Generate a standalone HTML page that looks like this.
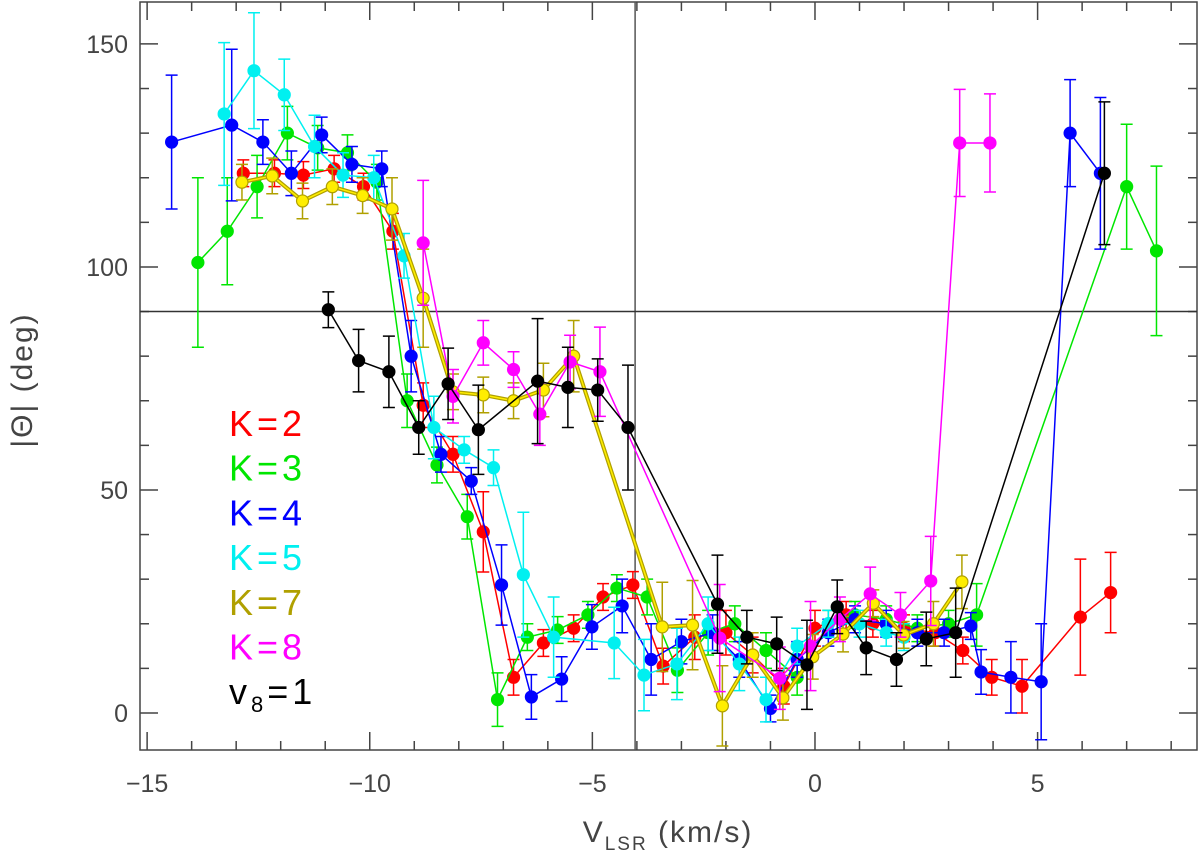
<!DOCTYPE html>
<html><head><meta charset="utf-8"><style>
html,body{margin:0;padding:0;background:#fff;}
svg{display:block;font-family:"Liberation Sans",sans-serif;}
</style></head><body>
<svg id="chart" width="1200" height="859" viewBox="0 0 1200 859" xmlns="http://www.w3.org/2000/svg"></svg>
<script>
const seriesNames = ["K=2","K=3","K=4","K=5","K=7","K=8","v8=1"];
const xTicks = [-15,-10,-5,0,5];
const yTicks = [0,50,100,150];
const k2V = [-12.84,-12.14,-11.49,-10.8,-10.14,-9.48,-8.8,-8.13,-7.45,-6.77,-6.1,-5.42,-4.76,-4.09,-3.41,-2.7,-2.0,-1.4,-0.7,0,0.7,1.3,2.0,2.7,3.32,3.97,4.65,5.96,6.64];
const k2T = [121,121,120.6,122,118,108,69,58,40.6,8,15.7,19,26,28.7,10.5,17,18,13,6,19,22,20,19,18,14,8,6,21.5,27];
const k2E = [3,3,3,3,3,4,5,4,9,4,3,3,3,3,4,5,5,4,4,4,3,3,3,3,3,4,6,13,9];
const k3V = [-13.86,-13.2,-12.53,-11.85,-11.17,-10.5,-9.84,-9.16,-8.49,-7.81,-7.13,-6.46,-5.78,-5.1,-4.45,-3.77,-3.09,-2.4,-1.8,-1.1,-0.4,0.3,0.9,1.6,2.3,3.0,3.63,7.0,7.67];
const k3T = [101,108,118,130,126.7,125.6,119,70,55.6,44,3,17,18.6,22,28,26,9.6,18,20,14,8,20,22,21,19,20,22,118,103.6];
const k3E = [19,12,7,6,5,4,4,6,4,5,6,3,3,3,3,4,5,5,4,4,4,3,3,3,3,3,7,14,19];
const k4V = [-14.45,-13.1,-12.4,-11.76,-11.08,-10.4,-9.73,-9.07,-8.4,-7.72,-7.04,-6.37,-5.69,-5.01,-4.33,-3.68,-3.0,-2.3,-1.7,-1.0,-0.4,0.3,0.9,1.6,2.3,2.9,3.5,3.73,4.4,5.08,5.73,6.41];
const k4T = [128,131.8,128,121,129.6,123,122,80,58,52,28.7,3.6,7.6,19.3,24,12,16,18,12,1,12,18,21,20,18,18,19.5,9.2,8,7,130,121];
const k4E = [15,17,5,5,4,4,4,8,4,3,9,5,5,5,6,8,5,4,4,3,4,3,3,3,3,3,3,5,8,13,12,17];
const k5V = [-13.27,-12.6,-11.92,-11.24,-10.6,-9.91,-9.23,-8.56,-7.88,-7.22,-6.55,-5.87,-4.51,-3.84,-3.1,-2.4,-1.7,-1.1,-0.4,0.3,1.0,1.6,2.0];
const k5T = [134.3,144,138.6,127,120.6,120,102.5,64,59,55,31,17,15.7,8.5,11,20,11,3,15,20,20,18,17];
const k5E = [16,13,8,7,5,5,5,7,3,4,14,9,8,8,8,6,6,5,4,3,3,3,3];
const k7V = [-12.87,-12.19,-11.51,-10.84,-10.16,-9.5,-8.8,-8.13,-7.45,-6.77,-6.1,-5.42,-3.43,-2.75,-2.08,-1.4,-0.72,-0.05,0.63,1.31,1.99,2.66,3.3];
const k7T = [119,120.4,114.8,118,116,113,93,72,71.3,70,72.4,80,19.3,19.7,1.6,13,3.4,12.6,17.7,24.6,17.5,20,29.4];
const k7E = [4,4,4,4,4,7,11,4,4,4,6,8,10,10,9,5,5,5,4,3,3,5,6];
const k8V = [-8.8,-8.13,-7.45,-6.77,-6.18,-5.5,-4.83,-2.14,-0.79,-0.1,0.56,1.24,1.92,2.6,3.25,3.93];
const k8T = [105.4,71,83,77,67,78.7,76.5,16.8,7.8,15,21,26.7,22,29.6,127.8,127.8];
const k8E = [14,6,5,4,7,6,10,12,7,10,5,6,5,10,12,11];
const k9V = [-10.93,-10.25,-9.57,-8.9,-8.24,-7.56,-6.23,-5.55,-4.88,-4.2,-2.19,-1.53,-0.86,-0.18,0.5,1.15,1.83,2.5,3.16,6.5];
const k9T = [90.4,79,76.5,64,73.8,63.5,74.4,73,72.4,64,24.4,17,15.5,10.8,23.8,14.6,12,16.6,18,121];
const k9E = [4,7,8,6,8,10,14,9,7,14,11,6,6,10,6,6,6,6,10,16];

const X0=140,X1=1197,Y0=2,Y1=750;
const xMin=-15.16,xMax=8.58,yMin=-8.3,yMax=159.4;
function sx(v){return X0+(v-xMin)/(xMax-xMin)*(X1-X0);}
function sy(v){return Y1-(v-yMin)/(yMax-yMin)*(Y1-Y0);}
const svg=document.getElementById('chart');
const NS='http://www.w3.org/2000/svg';
function mk(tag,attrs,parent){const e=document.createElementNS(NS,tag);for(const k in attrs)e.setAttribute(k,attrs[k]);(parent||svg).appendChild(e);return e;}

const frame=mk('rect',{x:X0,y:Y0,width:X1-X0,height:Y1-Y0,fill:'none',stroke:'#444','stroke-width':1.5});


const tg=mk('g',{stroke:'#444','stroke-width':1.5});


for(let v=-15;v<=8;v++){const L=(v%5===0)?18:9;const x=sx(v);
 mk('line',{x1:x,y1:Y1,x2:x,y2:Y1-L},tg);mk('line',{x1:x,y1:Y0,x2:x,y2:Y0+L},tg);}
for(let v=0;v<=150;v+=10){const L=(v%50===0)?18:9;const y=sy(v);
 mk('line',{x1:X0,y1:y,x2:X0+L,y2:y},tg);mk('line',{x1:X1,y1:y,x2:X1-L,y2:y},tg);}
xTicks.forEach(v=>{const t=mk('text',{x:sx(v),y:792,'text-anchor':'middle','font-size':25,fill:'#444'});t.textContent=(v<0?'\u2212'+(-v):v);
 
 });
yTicks.forEach(v=>{const t=mk('text',{x:128,y:sy(v)+9,'text-anchor':'end','font-size':25,fill:'#444'});t.textContent=v;
 
 });
const vl=mk('line',{x1:sx(-4.04),y1:Y0,x2:sx(-4.04),y2:Y1,stroke:'#555','stroke-width':1.5});


const hl=mk('line',{x1:X0,y1:sy(90),x2:X1,y2:sy(90),stroke:'#333','stroke-width':1.5});


const xt=mk('text',{x:668,y:842,'text-anchor':'middle','font-size':30,fill:'#444','letter-spacing':2});
xt.innerHTML='V<tspan font-size="19" dy="8">LSR</tspan><tspan dy="-8"> (km/s)</tspan>';


const yt=mk('text',{x:0,y:0,'text-anchor':'middle','font-size':30,fill:'#444','letter-spacing':2,transform:'translate(32,380) rotate(-90)'});
yt.textContent='|\u0398|  (deg)';



const series=[
 {v:k2V,t:k2T,e:k2E,c:'#ff0000',f:'#ff0000',n:'k2'},
 {v:k3V,t:k3T,e:k3E,c:'#00e600',f:'#00e600',n:'k3'},
 {v:k4V,t:k4T,e:k4E,c:'#0000ff',f:'#0000ff',n:'k4'},
 {v:k5V,t:k5T,e:k5E,c:'#00f0f0',f:'#00f0f0',n:'k5'},
 {v:k7V,t:k7T,e:k7E,c:'#b0a000',f:'#ffee00',n:'k7'},
 {v:k8V,t:k8T,e:k8E,c:'#ff00ff',f:'#ff00ff',n:'k8'},
 {v:k9V,t:k9T,e:k9E,c:'#000000',f:'#000000',n:'v8'}];
series.forEach(s=>{
 const g=mk('g',{});
 
 
 const pts=s.v.map((v,i)=>sx(v)+','+sy(s.t[i])).join(' ');
 if(s.n==='k7'){mk('polyline',{points:pts,fill:'none',stroke:s.c,'stroke-width':4},g);mk('polyline',{points:pts,fill:'none',stroke:s.f,'stroke-width':1.5},g);}
 else mk('polyline',{points:pts,fill:'none',stroke:s.c,'stroke-width':1.5},g);
 s.v.forEach((v,i)=>{const x=sx(v),y1=sy(s.t[i]-s.e[i]),y2=sy(s.t[i]+s.e[i]);
  const eb=mk('path',{d:`M${x},${y1}V${y2}M${x-6},${y1}h12M${x-6},${y2}h12`,stroke:s.c,'stroke-width':1.5,fill:'none'},g);
  
  });
 s.v.forEach((v,i)=>{const p=mk('circle',{cx:sx(v),cy:sy(s.t[i]),r:6,fill:s.f,stroke:s.n==='k7'?s.c:s.f,'stroke-width':1.2},g);
  
  });
});
const leg=[['K=2','#ff0000'],['K=3','#00e600'],['K=4','#0000ff'],['K=5','#00f0f0'],['K=7','#b0a000'],['K=8','#ff00ff']];
leg.forEach((l,i)=>{const t=mk('text',{x:229,y:436+i*44.7,'font-size':36,fill:l[1],'letter-spacing':4});t.textContent=l[0];
 
 });
const lt=mk('text',{x:229,y:704,'font-size':36,fill:'#000','letter-spacing':4});
lt.innerHTML='v<tspan font-size="22" dy="8">8</tspan><tspan dy="-8">=1</tspan>';


</script>
</body></html>
